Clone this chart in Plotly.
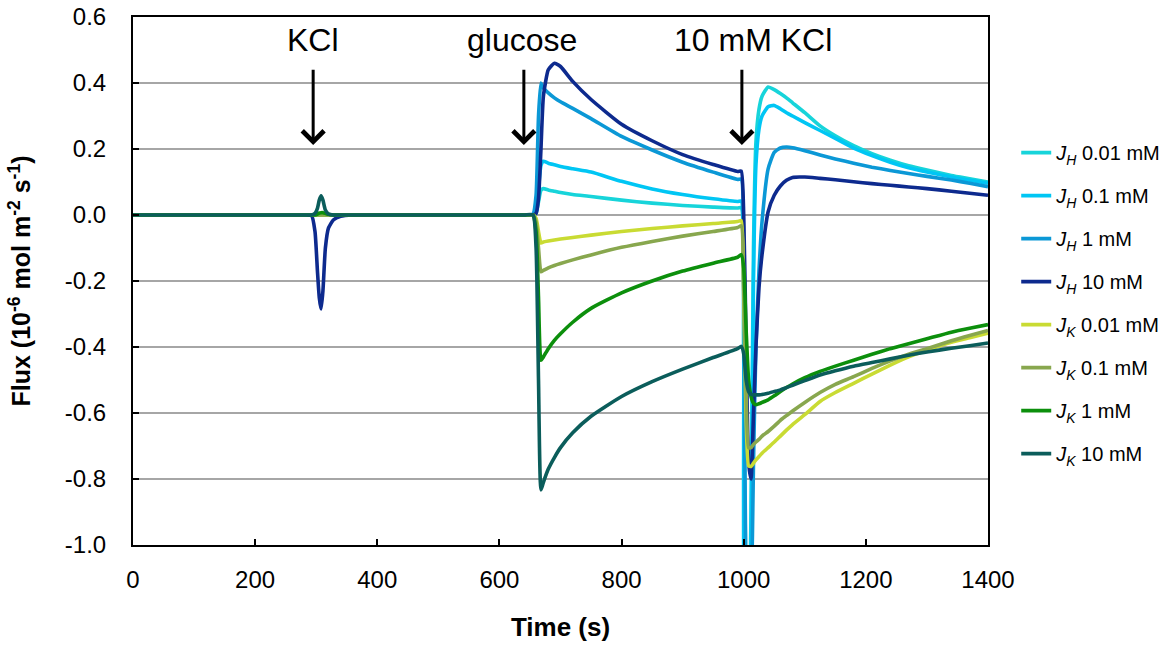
import plotly.graph_objects as go

# ---------------- data ----------------
time_s = [0, 280, 292, 298, 302, 305, 308, 311, 315, 320, 328, 340, 360,
          640, 655, 660, 664, 668, 672, 680, 690, 700, 720, 750, 800, 850, 900, 950, 990, 996,
          1000, 1004, 1008, 1012, 1016, 1020, 1025, 1030, 1040, 1050, 1060, 1070, 1080,
          1100, 1125, 1150, 1180, 1210, 1240, 1270, 1300, 1340, 1370, 1400]

jh_001 = [0, 0, 0, 0, 0, 0, 0, 0, 0, 0, 0, 0, 0,
          0, 0, 0.005, 0.04, 0.075, 0.080, 0.076, 0.072, 0.068, 0.062, 0.056, 0.045, 0.036, 0.029, 0.024, 0.021, 0.022,
          -0.4, -1.2, -1.3, -0.9, -0.1, 0.22, 0.32, 0.36, 0.388, 0.38, 0.368, 0.355, 0.34,
          0.31, 0.27, 0.24, 0.21, 0.186, 0.166, 0.149, 0.136, 0.12, 0.11, 0.10]

jh_01 = [0, 0, 0, 0, 0, 0, 0, 0, 0, 0, 0, 0, 0,
         0, 0, 0.01, 0.08, 0.15, 0.163, 0.157, 0.152, 0.147, 0.14, 0.13, 0.102, 0.079, 0.062, 0.049, 0.041, 0.042,
         -0.4, -1.3, -1.3, -1.0, -0.2, 0.15, 0.26, 0.30, 0.328, 0.332, 0.322, 0.31, 0.30,
         0.28, 0.256, 0.232, 0.203, 0.18, 0.16, 0.143, 0.13, 0.115, 0.105, 0.096]

jh_1 = [0, 0, 0, 0, 0, 0, 0, 0, 0, 0, 0, 0, 0,
        0, 0.003, 0.06, 0.30, 0.40, 0.385, 0.37, 0.355, 0.343, 0.323, 0.292, 0.238, 0.197, 0.16, 0.13, 0.108, 0.109,
        -0.2, -1.2, -1.3, -1.2, -0.75, -0.4, -0.17, -0.02, 0.14, 0.19, 0.203, 0.206, 0.204,
        0.195, 0.182, 0.17, 0.157, 0.145, 0.135, 0.126, 0.117, 0.106, 0.096, 0.086]

jh_10 = [0, 0, 0, -0.05, -0.17, -0.25, -0.285, -0.23, -0.10, -0.04, -0.015, -0.004, 0,
         0, 0, 0.005, 0.05, 0.20, 0.36, 0.44, 0.46, 0.45, 0.405, 0.35, 0.275, 0.225, 0.183, 0.153, 0.132, 0.133,
         0.0, -0.4, -0.75, -0.8, -0.6, -0.4, -0.22, -0.12, 0.01, 0.06, 0.088, 0.105, 0.114,
         0.115, 0.111, 0.107, 0.101, 0.095, 0.09, 0.085, 0.08, 0.072, 0.066, 0.06]

jk_001 = [0, 0, 0, 0, 0, 0, 0, 0, 0, 0, 0, 0, 0,
          0, 0, -0.01, -0.05, -0.085, -0.082, -0.079, -0.076, -0.073, -0.068, -0.061, -0.05, -0.041, -0.033, -0.026, -0.02, -0.017,
          -0.25, -0.62, -0.76, -0.762, -0.752, -0.742, -0.732, -0.722, -0.705, -0.688, -0.67, -0.652, -0.635,
          -0.605, -0.565, -0.538, -0.51, -0.482, -0.455, -0.43, -0.41, -0.386, -0.372, -0.358]

jk_01 = [0, 0, 0, 0, 0, 0, 0, 0, 0, 0, 0, 0, 0,
         0, 0, -0.02, -0.10, -0.172, -0.168, -0.16, -0.153, -0.147, -0.136, -0.121, -0.098, -0.08, -0.064, -0.05, -0.038, -0.033,
         -0.22, -0.55, -0.705, -0.705, -0.695, -0.688, -0.68, -0.67, -0.656, -0.64, -0.622, -0.608, -0.594,
         -0.568, -0.538, -0.513, -0.49, -0.465, -0.442, -0.422, -0.405, -0.381, -0.365, -0.35]

jk_1 = [0, 0, 0, 0, 0.003, 0.006, 0.007, 0.007, 0.005, 0.002, 0, 0, 0,
        0, 0, -0.05, -0.25, -0.44, -0.43, -0.405, -0.38, -0.36, -0.325, -0.283, -0.236, -0.2, -0.17, -0.146, -0.128, -0.12,
        -0.16, -0.35, -0.5, -0.55, -0.57, -0.575, -0.572, -0.568, -0.56, -0.548, -0.535, -0.523, -0.512,
        -0.493, -0.474, -0.458, -0.44, -0.422, -0.405, -0.39, -0.375, -0.355, -0.343, -0.332]

jk_10 = [0, 0, 0, 0.005, 0.02, 0.045, 0.058, 0.045, 0.015, 0.003, 0, 0, 0,
         0, 0, -0.10, -0.50, -0.833, -0.81, -0.77, -0.735, -0.705, -0.66, -0.61, -0.55, -0.505, -0.467, -0.432, -0.405, -0.398,
         -0.42, -0.50, -0.535, -0.543, -0.545, -0.545, -0.545, -0.544, -0.54, -0.535, -0.53, -0.523, -0.516,
         -0.502, -0.485, -0.472, -0.458, -0.447, -0.436, -0.425, -0.415, -0.404, -0.396, -0.388]

series_names = ["<i>J</i><sub><i>H</i></sub> 0.01 mM", "<i>J</i><sub><i>H</i></sub> 0.1 mM",
                "<i>J</i><sub><i>H</i></sub> 1 mM", "<i>J</i><sub><i>H</i></sub> 10 mM",
                "<i>J</i><sub><i>K</i></sub> 0.01 mM", "<i>J</i><sub><i>K</i></sub> 0.1 mM",
                "<i>J</i><sub><i>K</i></sub> 1 mM", "<i>J</i><sub><i>K</i></sub> 10 mM"]
series_values = [jh_001, jh_01, jh_1, jh_10, jk_001, jk_01, jk_1, jk_10]
series_colors = ["#17D4DA", "#00C6F4", "#0B98D6", "#0D2A8E",
                 "#C9DB33", "#88A74E", "#0C8F0C", "#0B5D5B"]

x_ticks = [0, 200, 400, 600, 800, 1000, 1200, 1400]
y_ticks = [-1.0, -0.8, -0.6, -0.4, -0.2, 0.0, 0.2, 0.4, 0.6]
y_tick_labels = ["-1.0", "-0.8", "-0.6", "-0.4", "-0.2", "0.0", "0.2", "0.4", "0.6"]

event_labels = ["KCl", "glucose", "10 mM KCl"]
event_label_x = [295, 637, 1016]
event_arrow_x = [295, 640, 997]

FONT = "Liberation Sans, Arial, sans-serif"

fig = go.Figure()
for i, (name, vals, col) in enumerate(zip(series_names, series_values, series_colors)):
    fig.add_trace(go.Scatter(x=time_s, y=vals, mode="lines", name=name,
                             line=dict(color=col, width=3.6, shape="spline", smoothing=0.5),
                             legendgroup=f"g{i}"))

annotations = []
for lab, lx in zip(event_labels, event_label_x):
    annotations.append(dict(x=lx, y=0.53, xref="x", yref="y", text=lab, showarrow=False,
                            font=dict(size=32, color="black", family=FONT)))
for ax_ in event_arrow_x:
    annotations.append(dict(x=ax_, y=0.212, xref="x", yref="y", ax=ax_, ay=0.445,
                            axref="x", ayref="y", text="", showarrow=True,
                            arrowhead=4, arrowsize=1.4, arrowwidth=3, arrowcolor="black"))

fig.update_layout(
    width=1171, height=645,
    margin=dict(l=133, r=183, t=17, b=100, autoexpand=False),
    paper_bgcolor="white", plot_bgcolor="white",
    font=dict(family=FONT, color="black"),
    annotations=annotations,
    legend=dict(x=1.033, xanchor="left", y=0.78, yanchor="top",
                font=dict(size=20, family=FONT, color="black"),
                tracegroupgap=14, bgcolor="rgba(0,0,0,0)"),
    xaxis=dict(range=[0, 1400], tickvals=x_ticks, ticks="inside", ticklen=6, tickwidth=1.5,
               tickcolor="black", showline=True, linecolor="black", linewidth=2, mirror=True,
               showgrid=False, zeroline=False, tickfont=dict(size=24), ticklabelstandoff=12,
               automargin=False, ticklabeloverflow="allow",
               title=dict(text="<b>Time (s)</b>", font=dict(size=26), standoff=26)),
    yaxis=dict(range=[-1.0, 0.6], tickvals=y_ticks, ticktext=y_tick_labels, ticks="inside",
               ticklen=6, tickwidth=1.5, tickcolor="black", showline=True, linecolor="black",
               linewidth=2, mirror=True, showgrid=True, gridcolor="#A6A6A6", gridwidth=2,
               zeroline=False, tickfont=dict(size=24), ticklabelstandoff=20, automargin=False,
               ticklabeloverflow="allow",
               title=dict(text="<b>Flux (10<sup>-6</sup> mol m<sup>-2</sup> s<sup>-1</sup>)</b>",
                          font=dict(size=25), standoff=27)),
)

# remove the browser's default 8 px body margin so the figure sits at the page origin
fig.write_html("out.html", config={"displayModeBar": False},
               post_script="document.body.style.margin='0';")
